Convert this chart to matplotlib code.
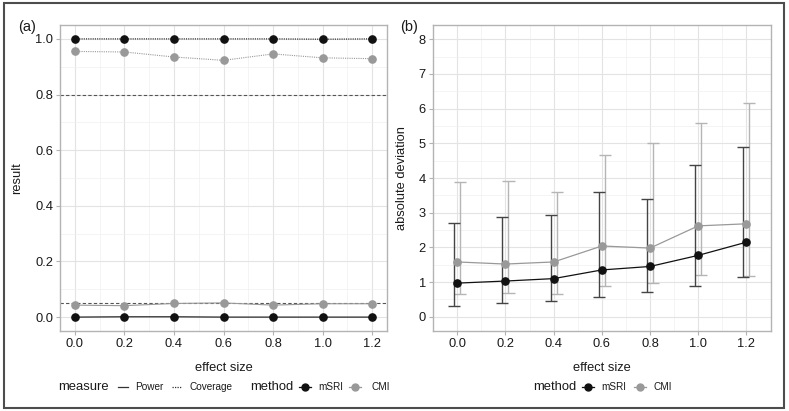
import matplotlib
matplotlib.use("Agg")
import matplotlib.pyplot as plt
from matplotlib.lines import Line2D
from matplotlib.patches import Rectangle
import numpy as np

plt.rcParams['font.family'] = ['Liberation Sans', 'DejaVu Sans']

# ---------------- data ----------------
effect_size = [0.0, 0.2, 0.4, 0.6, 0.8, 1.0, 1.2]

# panel (a): coverage and power
coverage_mSRI = [1.0, 1.0, 1.0, 1.0, 1.0, 0.999, 1.0]
coverage_CMI = [0.955, 0.953, 0.935, 0.923, 0.946, 0.932, 0.929]
power_mSRI = [0.0, 0.001, 0.001, 0.0, 0.0, 0.0, 0.0]
power_CMI = [0.043, 0.041, 0.049, 0.051, 0.043, 0.048, 0.048]
ref_lines = [0.8, 0.05]

# panel (b): absolute deviation (mean, lower, upper)
dev_mSRI = [0.97, 1.03, 1.10, 1.35, 1.45, 1.77, 2.15]
low_mSRI = [0.31, 0.39, 0.45, 0.58, 0.72, 0.90, 1.14]
up_mSRI = [2.70, 2.87, 2.93, 3.60, 3.39, 4.37, 4.89]
dev_CMI = [1.58, 1.52, 1.58, 2.04, 1.98, 2.62, 2.68]
low_CMI = [0.65, 0.68, 0.65, 0.88, 0.96, 1.20, 1.17]
up_CMI = [3.88, 3.90, 3.59, 4.65, 5.01, 5.58, 6.17]

methods = ['mSRI', 'CMI']
measures = ['Power', 'Coverage']

# ---------------- style ----------------
C_M = '#111111'
C_C = '#999999'
C_M_BAR = '#444444'
C_C_BAR = '#b5b5b5'
GRID_MAJ = '#e3e3e3'
GRID_MIN = '#f0f0f0'
BORDER = '#b3b3b3'
TXT = '#1a1a1a'
FS_TICK = 9.3
FS_TITLE = 9.3

W, H = 789, 411
fig = plt.figure(figsize=(W / 100, H / 100), dpi=100)

def px_rect(l, t, r, b):
    return [l / W, 1 - b / H, (r - l) / W, (b - t) / H]

ax_a = fig.add_axes(px_rect(60, 25, 387, 331))
ax_b = fig.add_axes(px_rect(432.7, 25, 771, 331))

def style_axes(ax, xminor, yminor):
    ax.set_xticks(xminor, minor=True)
    ax.set_yticks(yminor, minor=True)
    ax.grid(which='major', color=GRID_MAJ, lw=0.8)
    ax.grid(which='minor', color=GRID_MIN, lw=0.5)
    ax.set_axisbelow(True)
    for s in ax.spines.values():
        s.set_color(BORDER)
        s.set_linewidth(1.0)
    ax.tick_params(which='major', length=3, color=BORDER, width=0.8,
                   labelsize=FS_TICK, labelcolor=TXT, pad=2)
    ax.tick_params(which='minor', length=0)

# ---------- panel (a) ----------
x = np.array(effect_size)
for y in ref_lines:
    ax_a.axhline(y, color='#555555', lw=0.8, ls=(0, (3, 2)), zorder=1)
ax_a.plot(x, power_mSRI, color=C_M, lw=0.8, ls='-', zorder=3)
ax_a.plot(x, power_CMI, color=C_C, lw=0.8, ls='-', zorder=2)
ax_a.plot(x, coverage_mSRI, color=C_M, lw=0.8, ls=(0, (1, 1)), zorder=3)
ax_a.plot(x, coverage_CMI, color=C_C, lw=0.8, ls=(0, (1, 1)), zorder=2)
for ys, c, z in [(power_CMI, C_C, 4), (coverage_CMI, C_C, 4),
                 (power_mSRI, C_M, 5), (coverage_mSRI, C_M, 5)]:
    ax_a.plot(x, ys, ls='none', marker='o', ms=5.2, color=c, mec=c, zorder=z)
ax_a.set_xlim(-0.06, 1.26)
ax_a.set_ylim(-0.05, 1.05)
ax_a.set_xticks(effect_size)
ax_a.set_xticklabels([f'{v:.1f}' for v in effect_size])
ax_a.set_yticks([0.0, 0.2, 0.4, 0.6, 0.8, 1.0])
ax_a.set_yticklabels(['0.0', '0.2', '0.4', '0.6', '0.8', '1.0'])
style_axes(ax_a, np.arange(0.1, 1.2, 0.2), np.arange(0.1, 1.0, 0.2))
ax_a.set_xlabel('effect size', fontsize=FS_TITLE, color=TXT)
ax_a.set_ylabel('result', fontsize=FS_TITLE, color=TXT)
ax_a.xaxis.set_label_coords(0.5, -0.101)
ax_a.yaxis.set_label_coords(-0.113, 0.5)

# ---------- panel (b) ----------
dodge = 0.0125
cap = 0.025
for xs, lo, hi, c, z in [(x - dodge, low_mSRI, up_mSRI, C_M_BAR, 3),
                         (x + dodge, low_CMI, up_CMI, C_C_BAR, 2)]:
    ax_b.vlines(xs, lo, hi, color=c, lw=1.0, zorder=z)
    ax_b.hlines(lo, xs - cap, xs + cap, color=c, lw=1.0, zorder=z)
    ax_b.hlines(hi, xs - cap, xs + cap, color=c, lw=1.0, zorder=z)
ax_b.plot(x, dev_CMI, color=C_C, lw=0.9, marker='o', ms=5.2, zorder=4)
ax_b.plot(x, dev_mSRI, color=C_M, lw=0.9, marker='o', ms=5.2, zorder=5)
ax_b.set_xlim(-0.102, 1.302)
ax_b.set_ylim(-0.41, 8.41)
ax_b.set_xticks(effect_size)
ax_b.set_xticklabels([f'{v:.1f}' for v in effect_size])
ax_b.set_yticks(range(0, 9))
style_axes(ax_b, np.arange(0.1, 1.2, 0.2), np.arange(0.5, 8.0, 1.0))
ax_b.set_xlabel('effect size', fontsize=FS_TITLE, color=TXT)
ax_b.set_ylabel('absolute deviation', fontsize=FS_TITLE, color=TXT)
ax_b.xaxis.set_label_coords(0.5, -0.101)
ax_b.yaxis.set_label_coords(-0.073, 0.5)

# ---------- panel labels ----------
fig.text(18 / W, 1 - 27 / H, '(a)', fontsize=10.5, color=TXT, va='center', ha='left')
fig.text(400 / W, 1 - 27 / H, '(b)', fontsize=10.5, color=TXT, va='center', ha='left')

# ---------- legends (manual, ggplot-style inline) ----------
LY = 1 - 387 / H
FS_LT = 9.4
FS_LL = 7.2

def ftext(xp, s, fs):
    fig.text(xp / W, LY, s, fontsize=fs, color=TXT, va='center', ha='left')

def fline(x0, x1, color, ls='-', marker=None):
    fig.add_artist(Line2D([x0 / W, x1 / W], [LY, LY], color=color, lw=0.9, ls=ls,
                          transform=fig.transFigure))
    if marker:
        xm = (x0 + x1) / 2
        fig.add_artist(Line2D([xm / W], [LY], color=color, marker='o', ms=5,
                              ls='none', transform=fig.transFigure))

# panel a legend
ftext(57.7, 'measure', FS_LT)
fline(118, 128, '#333333', '-')
ftext(135, measures[0], FS_LL)
fline(172, 182, '#333333', (0, (1, 1)))
ftext(190, measures[1], FS_LL)
ftext(250, 'method', FS_LT)
fline(299, 311, C_M, '-', marker=True)
ftext(318, methods[0], FS_LL)
fline(349, 361, C_C, '-', marker=True)
ftext(372, methods[1], FS_LL)

# panel b legend
ftext(532.7, 'method', FS_LT)
fline(582, 594, C_M, '-', marker=True)
ftext(601, methods[0], FS_LL)
fline(634, 646, C_C, '-', marker=True)
ftext(654, methods[1], FS_LL)

# outer frame
fig.add_artist(Rectangle((3.5 / W, 1 - 408 / H), (783.5 - 3.5) / W, (408 - 3.5) / H,
                         transform=fig.transFigure, fill=False, ec='#4d4d4d', lw=1.5))

fig.savefig('out.png', dpi=100)
